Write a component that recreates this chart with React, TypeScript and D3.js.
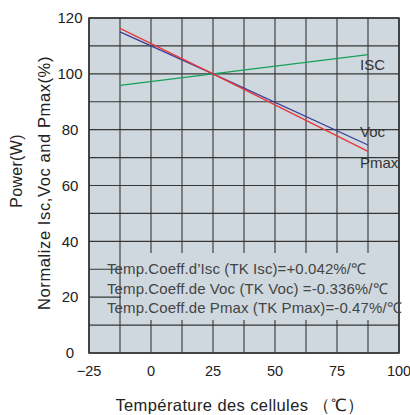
import React from "react";
import * as d3 from "d3";

// temperatures where the curves are sampled (°C)
const temps = [-12.5, 25, 87.5];
const iscValues = [95.9, 100, 106.9];
const vocValues = [115.0, 100, 74.5];
const pmaxValues = [116.3, 100, 72.2];

const xTicks = [-25, 0, 25, 50, 75, 100];
const yTicks = [0, 20, 40, 60, 80, 100, 120];
const xGrid = d3.range(-25, 100.1, 12.5);
const yGrid = d3.range(0, 120.1, 10);

const coeffLines = [
	"Temp.Coeff.d\u2019Isc (TK Isc)=+0.042%/\u2103",
	"Temp.Coeff.de Voc (TK Voc) =-0.336%/\u2103",
	"Temp.Coeff.de Pmax (TK Pmax)=-0.47%/\u2103",
];

const series = [
	{ name: "ISC", values: iscValues, color: "#17a05a", dy: 15 },
	{ name: "Voc", values: vocValues, color: "#3b3f98", dy: -8 },
	{ name: "Pmax", values: pmaxValues, color: "#e5383b", dy: 17 },
];

export default function App() {
	const width = 410;
	const height = 415;
	const marginLeft = 89;
	const marginRight = 11;
	const marginTop = 18;
	const marginBottom = 62;
	const font = "'Liberation Sans', Arial, sans-serif";
	const bg = "#cfd8de";
	const gridColor = "#363636";

	const x = d3
		.scaleLinear()
		.domain([-25, 100])
		.range([marginLeft, width - marginRight]);

	const y = d3
		.scaleLinear()
		.domain([0, 120])
		.range([height - marginBottom, marginTop]);

	const line = d3
		.line<number>()
		.x((_, i) => x(temps[i]))
		.y((d) => y(d));

	return (
		<svg
			width={width}
			height={height}
			style={{ position: "absolute", left: 0, top: 0, background: "#fff" }}
			fontFamily={font}
		>
			{/* plot background */}
			<rect
				x={x(-25)}
				y={y(120)}
				width={x(100) - x(-25)}
				height={y(0) - y(120)}
				fill={bg}
			/>

			{/* grid */}
			<g stroke={gridColor} strokeWidth={1.1}>
				{xGrid.map((t) => (
					<line key={"vx" + t} x1={x(t)} x2={x(t)} y1={y(0)} y2={y(120)} />
				))}
				{yGrid.map((t) => (
					<line key={"hy" + t} x1={x(-25)} x2={x(100)} y1={y(t)} y2={y(t)} />
				))}
			</g>

			{/* box behind the coefficient text hides the grid */}
			<rect
				x={x(-12.5) + 1}
				y={253}
				width={x(100) - x(-12.5) - 2}
				height={67}
				fill={bg}
			/>

			{/* frame */}
			<rect
				x={x(-25)}
				y={y(120)}
				width={x(100) - x(-25)}
				height={y(0) - y(120)}
				fill="none"
				stroke="#333"
				strokeWidth={1.6}
			/>

			{/* curves */}
			{series.map((s) => (
				<path
					key={s.name}
					d={line(s.values) || undefined}
					fill="none"
					stroke={s.color}
					strokeWidth={1.3}
				/>
			))}

			{/* curve labels */}
			{series.map((s) => (
				<text
					key={"l" + s.name}
					x={x(87.5) - 8}
					y={y(s.values[s.values.length - 1]) + s.dy}
					fontSize={15}
					fill="#333"
				>
					{s.name}
				</text>
			))}

			{/* coefficient text */}
			{coeffLines.map((t, i) => (
				<text
					key={t}
					x={107}
					y={274 + i * 19.5}
					fontSize={15}
					letterSpacing={0.1}
					fill="#444"
				>
					{t}
				</text>
			))}

			{/* y ticks */}
			{yTicks.map((t) => (
				<text
					key={"yt" + t}
					x={70}
					y={y(t)}
					dy="0.35em"
					textAnchor="middle"
					fontSize={15}
					fill="#222"
				>
					{t}
				</text>
			))}

			{/* x ticks */}
			{xTicks.map((t) => (
				<text
					key={"xt" + t}
					x={x(t)}
					y={376}
					textAnchor="middle"
					fontSize={14.5}
					fill="#222"
				>
					{t < 0 ? "\u2212" + Math.abs(t) : t}
				</text>
			))}

			{/* axis titles */}
			<text
				x={240}
				y={411}
				textAnchor="middle"
				fontSize={16.5}
				letterSpacing={0.4}
				fill="#222"
			>
				Température des cellules {"\uFF08\u2103\uFF09"}
			</text>
			<text
				transform="translate(22,171) rotate(-90)"
				textAnchor="middle"
				fontSize={16}
				letterSpacing={0.3}
				fill="#222"
			>
				Power(W)
			</text>
			<text
				transform="translate(50,183) rotate(-90)"
				textAnchor="middle"
				fontSize={16.5}
				letterSpacing={0.6}
				fill="#222"
			>
				Normalize Isc,Voc and Pmax(%)
			</text>
		</svg>
	);
}
